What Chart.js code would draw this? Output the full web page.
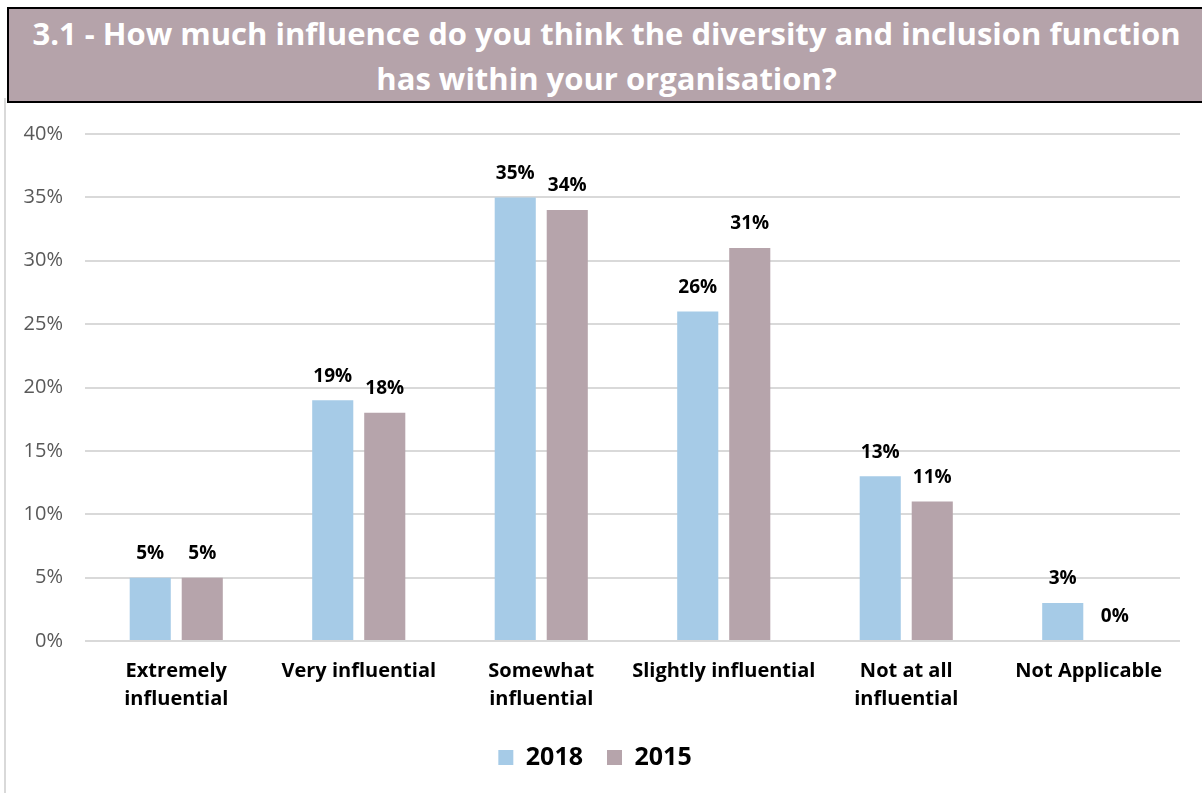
<!DOCTYPE html>
<html>
<head>
<meta charset="utf-8">
<script src="https://cdn.jsdelivr.net/npm/chart.js@4/dist/chart.umd.min.js"></script>
<style>
  html, body { margin: 0; padding: 0; background: #fff; }
  body { width: 1202px; height: 793px; position: relative; overflow: hidden; font-family: "Open Sans", sans-serif; }
  #frame { position: absolute; left: 4px; top: 98px; width: 1198px; height: 700px; border-left: 2px solid #d9d9d9; }
  #title {
    position: absolute; left: 7px; top: 7px; width: 1200px; height: 90px;
    background: #b5a3aa; border: 2px solid #000; border-right: none;
    color: #fff; font-weight: bold; font-size: 31px; line-height: 45px;
    text-align: center; padding-top: 2px; box-sizing: content-box;
  }
  #title span { display: block; width: 1195px; }
  #wrap { position: absolute; left: 0; top: 100px; width: 1202px; height: 693px; }
</style>
</head>
<body>
<div id="frame"></div>
<div id="title"><span>3.1 - How much influence do you think the diversity and inclusion function<br>has within your organisation?</span></div>
<div id="wrap"><canvas id="chart" width="1202" height="693"></canvas></div>
<script>
const categories = [
  ["Extremely", "influential"],
  "Very influential",
  ["Somewhat", "influential"],
  "Slightly influential",
  ["Not at all", "influential"],
  "Not Applicable"
];
const series2018 = [5, 19, 35, 26, 13, 3];
const series2015 = [5, 18, 34, 31, 11, 0];
const seriesNames = ["2018", "2015"];
const yTicks = [0, 5, 10, 15, 20, 25, 30, 35, 40];

const blue = "#a6cbe7";
const mauve = "#b6a4ab";

// draws the % value above each bar
const barLabels = {
  id: "barLabels",
  afterDatasetsDraw(chart) {
    const ctx = chart.ctx;
    ctx.save();
    ctx.font = "bold 19px 'Open Sans'";
    ctx.fillStyle = "#000";
    ctx.textAlign = "center";
    ctx.textBaseline = "middle";
    chart.data.datasets.forEach((ds, i) => {
      chart.getDatasetMeta(i).data.forEach((bar, j) => {
        ctx.fillText(ds.data[j] + "%", bar.x, bar.y - 24);
      });
    });
    ctx.restore();
  }
};

new Chart(document.getElementById("chart"), {
  type: "bar",
  data: {
    labels: categories,
    datasets: [
      { label: seriesNames[0], data: series2018, backgroundColor: blue },
      { label: seriesNames[1], data: series2015, backgroundColor: mauve }
    ]
  },
  options: {
    responsive: false,
    animation: false,
    categoryPercentage: 0.57,
    barPercentage: 0.79,
    layout: { padding: { top: 12, right: 22, left: 10, bottom: 13 } },
    plugins: {
      legend: {
        position: "bottom",
        labels: {
          boxWidth: 15, boxHeight: 15, padding: 24,
          color: "#000",
          font: { family: "Open Sans", size: 25, weight: "bold" }
        }
      },
      tooltip: { enabled: false }
    },
    scales: {
      x: {
        grid: { display: false },
        border: { display: false },
        ticks: {
          color: "#000", padding: 8,
          font: { family: "Open Sans", size: 20, weight: "bold", lineHeight: 1.4 },
          maxRotation: 0, autoSkip: false
        }
      },
      y: {
        min: 0, max: 40,
        afterBuildTicks: (axis) => { axis.ticks = yTicks.map((v) => ({ value: v })); },
        afterFit: (axis) => { axis.width = 75; },
        grid: { color: "#d9d9d9", lineWidth: 2, drawTicks: false },
        border: { display: false },
        ticks: {
          color: "#595959", padding: 22,
          font: { family: "Open Sans", size: 20 },
          callback: (v) => v + "%"
        }
      }
    }
  },
  plugins: [barLabels]
});
</script>
</body>
</html>
